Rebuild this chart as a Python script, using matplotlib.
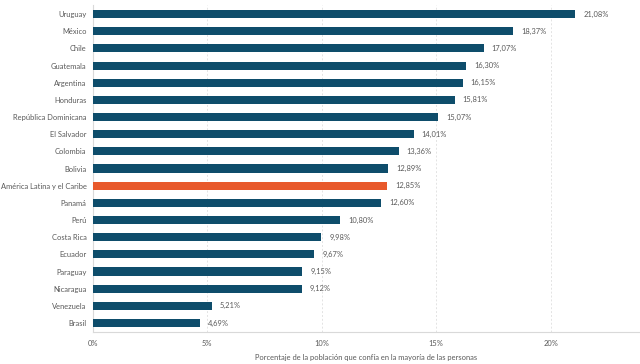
import numpy as np
import matplotlib
matplotlib.use("Agg")
from matplotlib import pyplot as plt

countries = ["Uruguay", "México", "Chile", "Guatemala", "Argentina", "Honduras",
             "República Dominicana", "El Salvador", "Colombia", "Bolivia",
             "América Latina y el Caribe", "Panamá", "Perú", "Costa Rica",
             "Ecuador", "Paraguay", "Nicaragua", "Venezuela", "Brasil"]
values = [21.08, 18.37, 17.07, 16.30, 16.15, 15.81, 15.07, 14.01, 13.36, 12.89,
          12.85, 12.60, 10.80, 9.98, 9.67, 9.15, 9.12, 5.21, 4.69]
highlight = "América Latina y el Caribe"
xticks = [0, 5, 10, 15, 20]

plt.rcParams['font.family'] = ['Lato', 'DejaVu Sans']
txt = '#595959'
fs = 5.4

fig = plt.figure(figsize=(6.4, 3.64), dpi=100)
ax = fig.add_axes([0.145, 0.089, 0.855, 0.896])

y = np.arange(len(countries))
colors = ['#e8592b' if c == highlight else '#0e4d6b' for c in countries]
ax.barh(y, values, height=0.47, color=colors, zorder=3)

for yi, v in zip(y, values):
  ax.text(v + 0.35, yi, "{:.2f}%".format(v).replace('.', ','), va='center', ha='left',
          fontsize=fs, color=txt)

ax.set_yticks(y)
ax.set_yticklabels(countries, fontsize=fs, color=txt)
ax.set_ylim(len(countries) - 0.5, -0.5)
ax.set_xlim(0, 23.9)
ax.set_xticks(xticks)
ax.set_xticklabels(["{}%".format(t) for t in xticks], fontsize=fs, color=txt)
ax.tick_params(length=0, pad=6)
ax.tick_params(axis='y', pad=4.5)
ax.xaxis.grid(True, linestyle=(0, (2, 2)), color='#e3e3e3', linewidth=0.7, zorder=0)
ax.set_xlabel("Porcentaje de la población que confía en la mayoría de las personas",
              fontsize=fs, color=txt, labelpad=5)
for s in ['top', 'right']:
  ax.spines[s].set_visible(False)
for s in ['left', 'bottom']:
  ax.spines[s].set_color('#d9d9d9')
  ax.spines[s].set_linewidth(0.8)

plt.savefig("out.png", dpi=100)
plt.close()
